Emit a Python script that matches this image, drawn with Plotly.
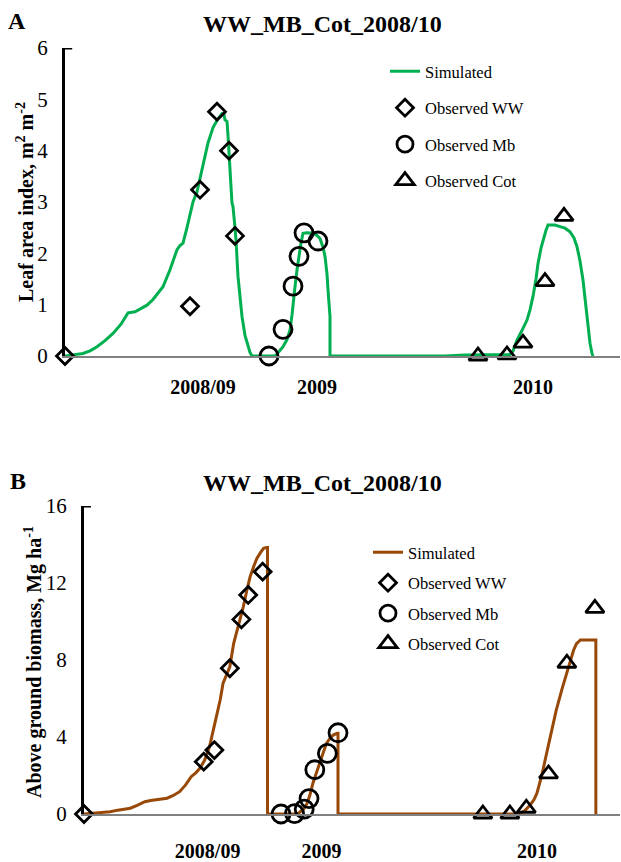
import plotly.graph_objects as go

# ---------------- DATA ----------------
season_labels = ["2008/09", "2009", "2010"]
label_days_a = [138, 252, 468]
label_days_b = [128, 246, 469]

lai_sim_day = [0, 10, 18, 25, 32, 40, 48, 56, 63, 70, 76, 82, 88, 94, 98, 105, 112, 115, 118,
               122, 125, 128, 132, 138, 143, 148, 153, 157, 159, 160, 162, 163, 164, 166, 167,
               168, 170, 171, 173, 175, 177, 180, 182, 185, 187,
               210, 212, 215, 218, 222, 225, 227, 228, 230, 232, 234, 236, 238, 242, 248, 252,
               255, 258, 260, 262, 263, 264, 265, 265,
               380, 400, 445, 448, 452, 457, 462, 465, 468, 471, 473, 476, 478, 481, 483, 490,
               495, 500, 505, 509, 512, 515, 518, 520, 522, 524, 525, 527, 528]
lai_sim_val = [0, 0.02, 0.05, 0.1, 0.18, 0.3, 0.44, 0.62, 0.84, 0.86, 0.92, 0.99, 1.1, 1.25, 1.35,
               1.68, 2.07, 2.15, 2.2, 2.5, 2.78, 3.0, 3.2, 3.75, 4.15, 4.45, 4.62, 4.72, 4.7, 4.6,
               4.57, 4.3, 3.88, 3.3, 2.98, 2.91, 2.5, 2.26, 1.55, 1.1, 0.77, 0.4, 0.25, 0.07, 0.0,
               0.0, 0.04, 0.1, 0.18, 0.32, 0.5, 0.8, 1.03, 1.35, 1.68, 1.98, 2.2, 2.39, 2.4, 2.39,
               2.35, 2.29, 2.12, 1.94, 1.6, 1.29, 1.0, 0.77, 0.0,
               0.0, 0.02, 0.03, 0.1, 0.31, 0.5, 0.7, 0.9, 1.16, 1.5, 1.8, 2.1, 2.26, 2.45, 2.55,
               2.55, 2.52, 2.49, 2.42, 2.3, 2.13, 1.85, 1.48, 1.15, 0.83, 0.45, 0.25, 0.05, 0.0]

lai_ww_day = [0, 125, 135, 152, 164, 170]
lai_ww_val = [0, 0.97, 3.24, 4.76, 4.0, 2.34]
lai_mb_day = [204, 218, 228, 234, 239, 253]
lai_mb_val = [0, 0.52, 1.36, 1.94, 2.4, 2.24]
lai_cot_day = [413, 442, 458, 480, 499]
lai_cot_val = [0, 0.02, 0.25, 1.45, 2.72]

bio_sim_day = [0, 10, 20, 27, 35, 42, 48, 55, 63, 69, 75, 80, 86, 92, 99, 105, 111, 116, 120,
               125, 130, 135, 141, 144, 151, 155, 160, 165, 169, 172, 176, 179, 183, 186, 189,
               190, 190,
               221, 224, 228, 231, 234, 237, 241, 244, 248, 251, 255, 258, 262, 263, 263,
               445, 451, 456, 462, 466, 469, 474, 479, 484, 489, 495, 500, 504, 507, 510, 514,
               530, 530]
bio_sim_val = [0, 0.03, 0.08, 0.12, 0.2, 0.25, 0.3, 0.45, 0.64, 0.7, 0.73, 0.77, 0.82, 0.95,
               1.16, 1.5, 1.94, 2.15, 2.37, 2.8, 3.5, 4.6, 5.92, 6.79, 7.65, 8.87, 9.8, 10.77,
               11.7, 12.33, 12.9, 13.28, 13.6, 13.8, 13.85, 13.85, 0,
               0, 0.12, 0.3, 0.55, 1.0, 1.6, 2.2, 2.63, 3.2, 3.67, 3.95, 4.1, 4.19, 4.19, 0,
               0, 0.04, 0.15, 0.47, 0.75, 1.08, 2.0, 3.15, 4.3, 5.4, 6.5, 7.3, 8.0, 8.52, 8.85,
               9.04, 9.04, 0]

bio_ww_day = [0, 124, 135, 151, 163, 170, 185]
bio_ww_val = [0, 2.72, 3.32, 7.57, 10.11, 11.38, 12.59]
bio_mb_day = [204, 218, 228, 233, 239, 252, 263]
bio_mb_val = [0, 0.02, 0.25, 0.8, 2.3, 3.15, 4.22]
bio_cot_day = [413, 441, 458, 481, 500, 529]
bio_cot_val = [0, 0, 0.3, 2.08, 7.83, 10.68]

# ---------------- STYLE ----------------
FONT = "Liberation Serif"
GREEN = "#00B050"
BROWN = "#984807"
W, H = 621, 862

fig = go.Figure()

def add_panel(xa, ya, sim_d, sim_v, col, ww, mb, cot, leg):
    fig.add_trace(go.Scatter(x=sim_d, y=sim_v, mode="lines", name="Simulated",
                             line=dict(color=col, width=3), xaxis=xa, yaxis=ya,
                             legend=leg, legendgroup=leg + "s", cliponaxis=False))
    specs = [("Observed WW", ww, "diamond-open", 13),
             ("Observed Mb", mb, "circle-open", 18),
             ("Observed Cot", cot, "triangle-up-open", 16)]
    for name, (d, v), sym, sz in specs:
        fig.add_trace(go.Scatter(x=d, y=v, mode="markers", name=name,
                                 marker=dict(symbol=sym, size=sz, color="black",
                                             line=dict(color="black", width=2.8)),
                                 xaxis=xa, yaxis=ya, legend=leg,
                                 legendgroup=leg + name, cliponaxis=False))

add_panel("x", "y", lai_sim_day, lai_sim_val, GREEN,
          (lai_ww_day, lai_ww_val), (lai_mb_day, lai_mb_val), (lai_cot_day, lai_cot_val), "legend")
add_panel("x2", "y2", bio_sim_day, bio_sim_val, BROWN,
          (bio_ww_day, bio_ww_val), (bio_mb_day, bio_mb_val), (bio_cot_day, bio_cot_val), "legend2")

xcommon = dict(range=[0, 555], showgrid=False, zeroline=False, showline=True, automargin=False,
               linecolor="#808080", linewidth=2, ticks="",
               tickfont=dict(family=FONT, size=20, color="black", weight="bold"))
ycommon = dict(showgrid=False, zeroline=False, showline=True, linecolor="black", automargin=False,
               linewidth=3, ticks="", tickfont=dict(family=FONT, size=21, color="black"))

fig.update_layout(
    template="none",
    width=W, height=H, margin=dict(l=0, r=0, t=0, b=0, pad=0, autoexpand=False),
    paper_bgcolor="white", plot_bgcolor="white",
    font=dict(family=FONT, color="black"),
    xaxis=dict(xcommon, domain=[65 / W, 620 / W], anchor="y",
               tickvals=label_days_a, ticktext=season_labels, ticklabelstandoff=12),
    yaxis=dict(ycommon, domain=[1 - 356 / H, 1 - 48 / H], anchor="x", range=[0, 6],
               tickvals=[0, 1, 2, 3, 4, 5, 6], ticklabelstandoff=10),
    xaxis2=dict(xcommon, domain=[84 / W, 620 / W], anchor="y2",
                tickvals=label_days_b, ticktext=season_labels, ticklabelstandoff=18),
    yaxis2=dict(ycommon, domain=[1 - 814 / H, 1 - 506 / H], anchor="x2", range=[0, 16],
                tickvals=[0, 4, 8, 12, 16], ticklabelstandoff=10),
    legend=dict(x=385 / W, xanchor="left", y=1 - 54 / H, yanchor="top",
                bgcolor="rgba(0,0,0,0)", tracegroupgap=12,
                font=dict(family=FONT, size=16.5, color="black")),
    legend2=dict(x=368 / W, xanchor="left", y=1 - 535 / H, yanchor="top",
                 bgcolor="rgba(0,0,0,0)", tracegroupgap=6,
                 font=dict(family=FONT, size=16.5, color="black")),
    showlegend=True,
)

# top caps on the y axes
for xr, yr, top in [("x domain", "y", 6), ("x2 domain", "y2", 16)]:
    fig.add_shape(type="line", xref=xr, yref=yr, x0=0, x1=0.013, y0=top, y1=top,
                  line=dict(color="black", width=3))

annos = [
    dict(text="<b>A</b>", x=17 / W, y=1 - 21 / H, size=24, angle=0),
    dict(text="<b>B</b>", x=18 / W, y=1 - 481 / H, size=24, angle=0),
    dict(text="<b>WW_MB_Cot_2008/10</b>", x=322 / W, y=1 - 24 / H, size=24, angle=0),
    dict(text="<b>WW_MB_Cot_2008/10</b>", x=322 / W, y=1 - 483 / H, size=24, angle=0),
    dict(text="<b>Leaf area index, m<sup>2</sup> m<sup>-2</sup></b>",
         x=25 / W, y=1 - 202 / H, size=20, angle=-90),
    dict(text="<b>Above ground biomass, Mg ha<sup>-1</sup></b>",
         x=33 / W, y=1 - 662 / H, size=20, angle=-90),
]
for a in annos:
    fig.add_annotation(xref="paper", yref="paper", showarrow=False, xanchor="center",
                       yanchor="middle", text=a["text"], x=a["x"], y=a["y"],
                       textangle=a["angle"],
                       font=dict(family=FONT, size=a["size"], color="black"))

fig.write_html("out.html", config={"displayModeBar": False},
               post_script="document.body.style.margin='0';document.body.style.overflow='hidden';")
